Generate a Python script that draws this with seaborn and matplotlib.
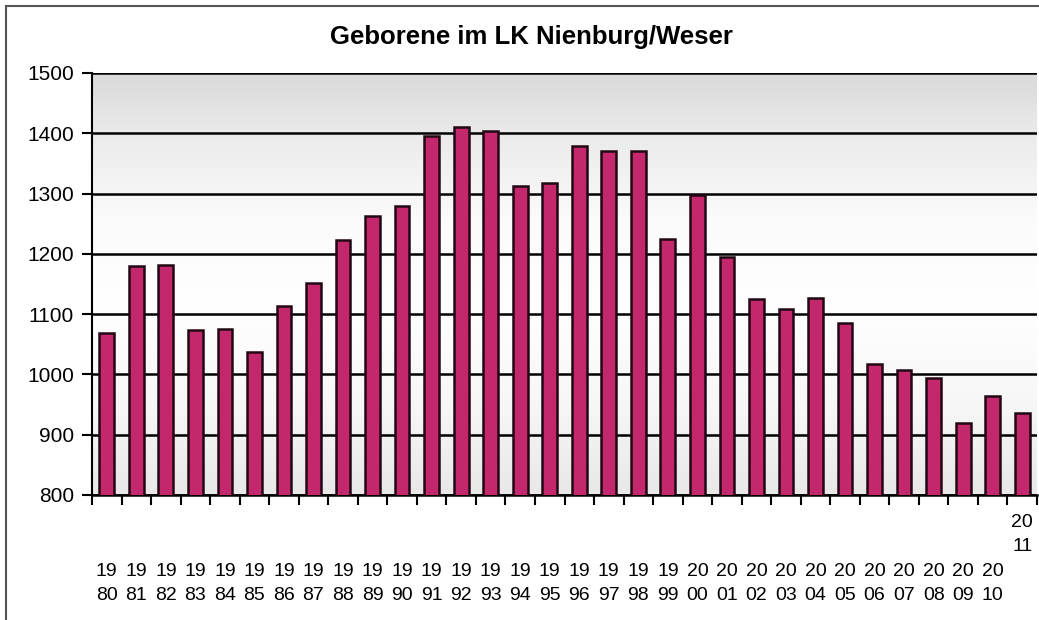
import matplotlib
matplotlib.use("Agg")
import matplotlib.pyplot as plt
import numpy as np
import pandas as pd
import seaborn as sns
from matplotlib.colors import LinearSegmentedColormap
from matplotlib.lines import Line2D

# Daten: Geborene pro Jahr
years = ['1980', '1981', '1982', '1983', '1984', '1985', '1986', '1987',
         '1988', '1989', '1990', '1991', '1992', '1993', '1994', '1995',
         '1996', '1997', '1998', '1999', '2000', '2001', '2002', '2003',
         '2004', '2005', '2006', '2007', '2008', '2009', '2010', '2011']
births = [1068, 1180, 1182, 1074, 1075, 1037, 1113, 1152,
          1223, 1262, 1279, 1395, 1410, 1404, 1313, 1318,
          1379, 1370, 1370, 1225, 1298, 1195, 1125, 1108,
          1126, 1085, 1018, 1008, 994, 920, 965, 936]
y_ticks = [800, 900, 1000, 1100, 1200, 1300, 1400, 1500]
title = 'Geborene im LK Nienburg/Weser'

tick_labels = [y[:2] + '\n' + y[2:] for y in years]

sns.set_style('white')
plt.rcParams['font.family'] = ['Liberation Sans', 'DejaVu Sans']
plt.rcParams['text.color'] = 'black'
plt.rcParams['xtick.color'] = 'black'
plt.rcParams['ytick.color'] = 'black'
plt.rcParams['xtick.labelcolor'] = 'black'
plt.rcParams['ytick.labelcolor'] = 'black'

df = pd.DataFrame({'Jahr': years, 'Geborene': births})

fig = plt.figure(figsize=(10.39, 6.2), dpi=100)
ax = fig.add_axes([92/1039, 1 - 495/620, 945/1039, 422/620])

sns.barplot(data=df, x='Jahr', y='Geborene', color='#c2286b', width=0.5,
            edgecolor='#220814', linewidth=1.8, saturation=1, ax=ax, zorder=3)

# Hintergrund-Verlauf (grau oben, weiss in der Mitte, hellgrau unten)
bg_cmap = LinearSegmentedColormap.from_list('bg', [
    (0.0, '#e8e8e8'), (0.2, '#f6f6f6'), (0.45, '#ffffff'),
    (0.65, '#fbfbfb'), (0.85, '#ebebeb'), (1.0, '#dadada')])
grad = np.linspace(0, 1, 256).reshape(-1, 1)
n = len(years)
ax.imshow(grad, aspect='auto', cmap=bg_cmap, origin='lower',
          extent=(-0.5, n - 0.5, y_ticks[0], y_ticks[-1]), zorder=0)

ax.set_xlim(-0.5, n - 0.5)
ax.set_ylim(y_ticks[0], y_ticks[-1])
ax.set_yticks(y_ticks)
ax.yaxis.grid(True, color='black', linewidth=1.8)
ax.set_axisbelow(True)

ax.spines['top'].set_visible(False)
ax.spines['right'].set_visible(False)
ax.spines['left'].set_color('black')
ax.spines['left'].set_linewidth(1.5)
ax.spines['bottom'].set_color('black')
ax.spines['bottom'].set_linewidth(1.8)

ax.set_xlabel('')
ax.set_ylabel('')

ax.set_xticks(range(n))
ax.set_xticklabels(tick_labels, linespacing=1.5)
ax.set_xticks(np.arange(-0.5, n, 1), minor=True)
ax.tick_params(axis='y', direction='out', length=7, width=1.5, pad=6,
               labelsize=15, color='black', left=True)
ax.tick_params(axis='x', which='major', length=0, pad=49, labelsize=14,
               bottom=True)
ax.tick_params(axis='x', which='minor', direction='out', length=7,
               width=1.5, color='black', bottom=True)

# letztes Label sitzt direkt unter der Achse
ax.xaxis.get_major_ticks()[-1].set_pad(14)

fig.text(531/1039, 1 - 37/620, title, ha='center', va='center',
         fontsize=18.5, fontweight='bold', color='black')

# Rahmen oben/links
fig.add_artist(Line2D([6/1039, 6/1039], [0, 1 - 6/620],
                      transform=fig.transFigure, color='#555555', lw=1.5))
fig.add_artist(Line2D([6/1039, 1], [1 - 6/620, 1 - 6/620],
                      transform=fig.transFigure, color='#555555', lw=1.5))

fig.savefig('out.png', dpi=100, facecolor='white')
